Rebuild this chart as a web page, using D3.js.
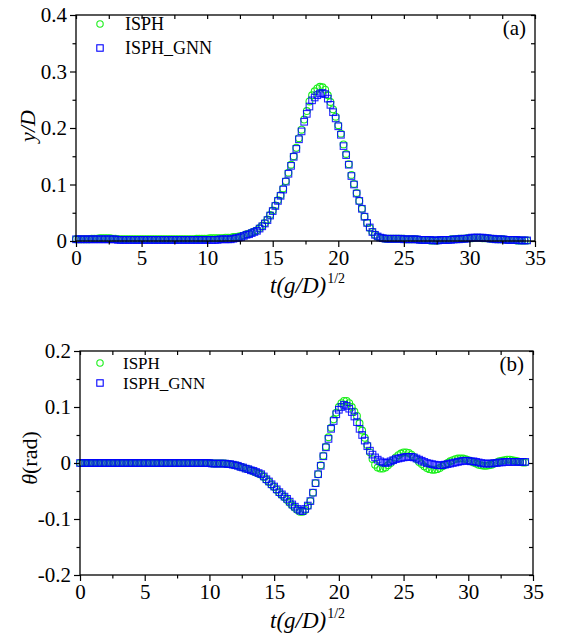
<!DOCTYPE html>
<html>
<head>
<meta charset="utf-8">
<script src="https://cdn.jsdelivr.net/npm/d3@7"></script>
<style>
  html, body { margin: 0; padding: 0; background: #fff; }
  svg text { font-family: "Liberation Serif", "Times New Roman", serif; fill: #000; }
</style>
</head>
<body>
<svg id="chart" width="562" height="638"></svg>
<script>
// ---- data ----
const tValues = [
  0.0,0.2,0.4,0.6,0.8,1.0,1.2,1.4,1.6,1.8,
  2.0,2.2,2.4,2.6,2.8,3.0,3.2,3.4,3.6,3.8,
  4.0,4.2,4.4,4.6,4.8,5.0,5.2,5.4,5.6,5.8,
  6.0,6.2,6.4,6.6,6.8,7.0,7.2,7.4,7.6,7.8,
  8.0,8.2,8.4,8.6,8.8,9.0,9.2,9.4,9.6,9.8,
  10.0,10.2,10.4,10.6,10.8,11.0,11.2,11.4,11.6,11.8,
  12.0,12.2,12.4,12.6,12.8,13.0,13.2,13.4,13.6,13.8,
  14.0,14.2,14.4,14.6,14.8,15.0,15.2,15.4,15.6,15.8,
  16.0,16.2,16.4,16.6,16.8,17.0,17.2,17.4,17.6,17.8,
  18.0,18.2,18.4,18.6,18.8,19.0,19.2,19.4,19.6,19.8,
  20.0,20.2,20.4,20.6,20.8,21.0,21.2,21.4,21.6,21.8,
  22.0,22.2,22.4,22.6,22.8,23.0,23.2,23.4,23.6,23.8,
  24.0,24.2,24.4,24.6,24.8,25.0,25.2,25.4,25.6,25.8,
  26.0,26.2,26.4,26.6,26.8,27.0,27.2,27.4,27.6,27.8,
  28.0,28.2,28.4,28.6,28.8,29.0,29.2,29.4,29.6,29.8,
  30.0,30.2,30.4,30.6,30.8,31.0,31.2,31.4,31.6,31.8,
  32.0,32.2,32.4,32.6,32.8,33.0,33.2,33.4,33.6,33.8,
  34.0,34.2,34.4
];

// (a) y/D
const yISPH = [
  0.003,0.003,0.003,0.003,0.003,0.003,0.004,0.004,0.004,0.005,
  0.005,0.005,0.005,0.005,0.004,0.004,0.003,0.003,0.003,0.003,
  0.003,0.003,0.003,0.003,0.003,0.003,0.003,0.003,0.003,0.003,
  0.003,0.003,0.003,0.003,0.003,0.003,0.003,0.003,0.003,0.003,
  0.003,0.003,0.003,0.003,0.003,0.003,0.004,0.004,0.004,0.004,
  0.004,0.005,0.005,0.005,0.005,0.005,0.005,0.006,0.006,0.006,
  0.007,0.007,0.008,0.009,0.010,0.012,0.013,0.015,0.017,0.019,
  0.023,0.027,0.032,0.038,0.046,0.054,0.063,0.072,0.081,0.093,
  0.106,0.121,0.135,0.150,0.165,0.182,0.197,0.215,0.230,0.247,
  0.258,0.265,0.270,0.273,0.272,0.268,0.258,0.246,0.233,0.220,
  0.205,0.190,0.171,0.154,0.136,0.117,0.101,0.085,0.071,0.057,
  0.043,0.032,0.023,0.016,0.011,0.008,0.006,0.005,0.004,0.004,
  0.004,0.004,0.004,0.004,0.004,0.004,0.003,0.003,0.003,0.003,
  0.003,0.002,0.002,0.002,0.002,0.001,0.001,0.001,0.001,0.002,
  0.002,0.002,0.002,0.003,0.003,0.003,0.004,0.004,0.004,0.005,
  0.005,0.005,0.006,0.006,0.006,0.005,0.005,0.005,0.004,0.004,
  0.003,0.003,0.003,0.003,0.002,0.002,0.002,0.002,0.001,0.001,
  0.001,0.001,0.001
];
const yGNN = [
  0.003,0.003,0.003,0.003,0.003,0.003,0.003,0.003,0.003,0.003,
  0.003,0.003,0.003,0.003,0.003,0.003,0.002,0.002,0.002,0.002,
  0.002,0.002,0.002,0.002,0.002,0.002,0.002,0.002,0.002,0.002,
  0.002,0.002,0.002,0.002,0.002,0.002,0.002,0.002,0.002,0.002,
  0.002,0.002,0.002,0.002,0.002,0.002,0.002,0.002,0.002,0.002,
  0.002,0.002,0.002,0.002,0.002,0.003,0.003,0.003,0.003,0.003,
  0.004,0.005,0.006,0.007,0.009,0.011,0.012,0.014,0.016,0.018,
  0.022,0.026,0.031,0.037,0.045,0.053,0.062,0.071,0.080,0.091,
  0.105,0.119,0.133,0.149,0.163,0.180,0.194,0.211,0.225,0.238,
  0.249,0.254,0.258,0.261,0.262,0.260,0.252,0.241,0.228,0.217,
  0.203,0.188,0.168,0.152,0.135,0.115,0.100,0.084,0.071,0.057,
  0.043,0.032,0.024,0.016,0.011,0.008,0.006,0.005,0.004,0.004,
  0.004,0.004,0.004,0.004,0.004,0.003,0.003,0.003,0.003,0.003,
  0.003,0.002,0.002,0.002,0.002,0.002,0.001,0.001,0.001,0.002,
  0.002,0.002,0.002,0.002,0.003,0.003,0.003,0.004,0.004,0.004,
  0.005,0.006,0.006,0.006,0.006,0.006,0.005,0.005,0.004,0.004,
  0.003,0.003,0.003,0.003,0.002,0.002,0.002,0.002,0.002,0.001,
  0.001,0.001,0.001
];

// (b) theta (rad)
const thISPH = [
  0,0,0,0,0,0,0,0,0,0,
  0,0,0,0,0,0,0,0,0,0,
  0,0,0,0,0,0,0,0,0,0,
  0,0,0,0,0,0,0,0,0,0,
  0,0,0,0,0,0,0,0,0,0,
  0,-0.001,-0.001,-0.001,-0.001,-0.001,-0.001,-0.002,-0.002,-0.003,
  -0.004,-0.005,-0.007,-0.008,-0.010,-0.011,-0.013,-0.015,-0.017,-0.019,
  -0.021,-0.025,-0.030,-0.034,-0.039,-0.043,-0.048,-0.053,-0.057,-0.061,
  -0.066,-0.071,-0.076,-0.080,-0.084,-0.087,-0.087,-0.084,-0.077,-0.068,
  -0.053,-0.036,-0.020,-0.004,0.013,0.029,0.046,0.063,0.078,0.090,
  0.100,0.107,0.111,0.111,0.107,0.100,0.092,0.084,0.071,0.058,
  0.045,0.032,0.019,0.007,-0.003,-0.008,-0.010,-0.010,-0.008,-0.004,
  0.000,0.005,0.010,0.014,0.017,0.019,0.019,0.018,0.015,0.011,
  0.007,0.002,-0.002,-0.006,-0.009,-0.011,-0.012,-0.012,-0.011,-0.009,
  -0.006,-0.003,0.000,0.003,0.005,0.007,0.008,0.008,0.008,0.007,
  0.005,0.003,0.001,-0.001,-0.003,-0.004,-0.005,-0.005,-0.004,-0.003,
  -0.001,0.001,0.003,0.004,0.005,0.006,0.006,0.005,0.004,0.003,
  0.002,0.001,0.001
];
const thGNN = [
  0,0,0,0,0,0,0,0,0,0,
  0,0,0,0,0,0,0,0,0,0,
  0,0,0,0,0,0,0,0,0,0,
  0,0,0,0,0,0,0,0,0,0,
  0,0,0,0,0,0,0,0,0,0,
  0,-0.001,-0.001,-0.001,-0.001,-0.001,-0.001,-0.002,-0.002,-0.003,
  -0.004,-0.005,-0.007,-0.008,-0.010,-0.011,-0.013,-0.014,-0.016,-0.018,
  -0.020,-0.024,-0.029,-0.033,-0.038,-0.042,-0.047,-0.052,-0.056,-0.060,
  -0.064,-0.069,-0.074,-0.078,-0.082,-0.085,-0.086,-0.082,-0.076,-0.068,
  -0.053,-0.036,-0.020,-0.005,0.012,0.028,0.043,0.061,0.075,0.087,
  0.095,0.100,0.104,0.102,0.097,0.091,0.083,0.073,0.061,0.050,
  0.040,0.030,0.022,0.015,0.010,0.006,0.003,0.001,0.000,0.001,
  0.003,0.005,0.007,0.008,0.009,0.010,0.011,0.011,0.011,0.010,
  0.008,0.006,0.004,0.002,0.000,-0.001,-0.002,-0.003,-0.004,-0.004,
  -0.004,-0.003,-0.002,-0.001,0.000,0.001,0.002,0.003,0.004,0.004,
  0.004,0.003,0.003,0.002,0.001,0.000,-0.001,-0.001,-0.001,-0.001,
  0.000,0.000,0.001,0.001,0.002,0.002,0.002,0.002,0.002,0.002,
  0.002,0.002,0.002
];

const xMajor = [0, 5, 10, 15, 20, 25, 30, 35];
const xMinor = [2.5, 7.5, 12.5, 17.5, 22.5, 27.5, 32.5];
const yMajorA = [0, 0.1, 0.2, 0.3, 0.4];
const yMinorA = [0.05, 0.15, 0.25, 0.35];
const yMajorB = [-0.2, -0.1, 0, 0.1, 0.2];
const yMinorB = [-0.15, -0.05, 0.05, 0.15];
const seriesNames = ["ISPH", "ISPH_GNN"];

// ---- drawing ----
const svg = d3.select("#chart");
const GREEN = "#1bef1b", BLUE = "#0000ff";
const SERIF = '"Liberation Serif", "Times New Roman", serif';

function fmt(v) {
  if (Math.abs(v) < 1e-9) return "0";
  return String(+v.toFixed(2)).replace("\u2212", "-");
}

function panel(cfg) {
  const x = d3.scaleLinear().domain([0, 35]).range([cfg.L, cfg.R]);
  const y = d3.scaleLinear().domain(cfg.yDomain).range([cfg.B, cfg.T]);
  const g = svg.append("g");

  // data: ISPH circles first, GNN squares on top
  const dA = tValues.map((t, i) => ({ t, v: cfg.s1[i] }));
  const dB = tValues.map((t, i) => ({ t, v: cfg.s2[i] }));
  g.append("g").selectAll("circle").data(dA).join("circle")
    .attr("cx", d => x(d.t)).attr("cy", d => y(d.v)).attr("r", 3.4)
    .attr("fill", "none").attr("stroke", GREEN).attr("stroke-width", 1.1);
  const s = 6.6;
  g.append("g").selectAll("rect").data(dB).join("rect")
    .attr("x", d => x(d.t) - s / 2).attr("y", d => y(d.v) - s / 2)
    .attr("width", s).attr("height", s)
    .attr("fill", "none").attr("stroke", BLUE).attr("stroke-width", 1.1)
    .attr("stroke-opacity", 0.85);

  // frame
  g.append("rect").attr("x", cfg.L).attr("y", cfg.T)
    .attr("width", cfg.R - cfg.L).attr("height", cfg.B - cfg.T)
    .attr("fill", "none").attr("stroke", "#000").attr("stroke-width", 1.3);

  const styleAxis = sel => {
    sel.attr("font-family", SERIF);
    sel.select(".domain").remove();
    sel.selectAll(".tick line").attr("stroke", "#000").attr("stroke-width", 1.2);
    sel.selectAll(".tick text").attr("font-size", 21);
  };

  // bottom
  g.append("g").attr("transform", `translate(0,${cfg.B})`)
    .call(d3.axisBottom(x).tickValues(xMajor).tickSize(6).tickPadding(3).tickFormat(fmt))
    .call(styleAxis);
  g.append("g").attr("transform", `translate(0,${cfg.B})`)
    .call(d3.axisBottom(x).tickValues(xMinor).tickSize(3.5).tickFormat(""))
    .call(styleAxis);
  // top (inward)
  g.append("g").attr("transform", `translate(0,${cfg.T})`)
    .call(d3.axisTop(x).tickValues(xMajor.concat(xMinor)).tickSize(-4).tickFormat(""))
    .call(styleAxis);
  // left
  g.append("g").attr("transform", `translate(${cfg.L},0)`)
    .call(d3.axisLeft(y).tickValues(cfg.yMajor).tickSize(6).tickPadding(3).tickFormat(fmt))
    .call(styleAxis);
  g.append("g").attr("transform", `translate(${cfg.L},0)`)
    .call(d3.axisLeft(y).tickValues(cfg.yMinor).tickSize(3.5).tickFormat(""))
    .call(styleAxis);
  // right (inward)
  g.append("g").attr("transform", `translate(${cfg.R},0)`)
    .call(d3.axisRight(y).tickValues(cfg.yMajor.concat(cfg.yMinor)).tickSize(-4).tickFormat(""))
    .call(styleAxis);

  // x title
  const xt = g.append("text").attr("x", cfg.xTitleX).attr("y", cfg.xTitleY)
    .attr("font-size", 23);
  xt.append("tspan").attr("font-style", "italic").text("t(g/D)");
  xt.append("tspan").attr("font-size", 14).attr("dy", -10).attr("dx", 1).text("1/2");

  // y title
  const yt = g.append("text")
    .attr("transform", `translate(${cfg.yTitleX},${cfg.yTitleY}) rotate(-90)`)
    .attr("text-anchor", "middle").attr("font-size", 22);
  cfg.yTitle(yt);

  // panel label
  g.append("text").attr("x", cfg.R - 9).attr("y", cfg.T + 20)
    .attr("text-anchor", "end").attr("font-size", 21).text(cfg.tag);

  // legend
  const lg = g.append("g");
  lg.append("circle").attr("cx", cfg.legX).attr("cy", cfg.legY[0]).attr("r", 3.2)
    .attr("fill", "none").attr("stroke", GREEN).attr("stroke-width", 1.1);
  lg.append("rect").attr("x", cfg.legX - 3.2).attr("y", cfg.legY[1] - 3.2)
    .attr("width", 6.4).attr("height", 6.4)
    .attr("fill", "none").attr("stroke", BLUE).attr("stroke-width", 1.1);
  seriesNames.forEach((n, i) => {
    lg.append("text").attr("x", cfg.legTextX).attr("y", cfg.legY[i] + 6)
      .attr("font-size", cfg.legFont).text(n);
  });
}

panel({
  L: 76, R: 535, T: 15, B: 241,
  yDomain: [0, 0.4], yMajor: yMajorA, yMinor: yMinorA,
  s1: yISPH, s2: yGNN, tag: "(a)",
  xTitleX: 270, xTitleY: 293,
  yTitleX: 35, yTitleY: 126,
  yTitle: t => t.append("tspan").attr("font-style", "italic").text("y/D"),
  legX: 100, legY: [24, 48], legTextX: 125, legFont: 18
});

panel({
  L: 80, R: 533, T: 351, B: 575,
  yDomain: [-0.2, 0.2], yMajor: yMajorB, yMinor: yMinorB,
  s1: thISPH, s2: thGNN, tag: "(b)",
  xTitleX: 270, xTitleY: 628,
  yTitleX: 37, yTitleY: 458,
  yTitle: t => {
    t.append("tspan").attr("font-style", "italic").text("\u03b8");
    t.append("tspan").text("(rad)");
  },
  legX: 100, legY: [363, 383], legTextX: 123, legFont: 17
});
</script>
</body>
</html>
